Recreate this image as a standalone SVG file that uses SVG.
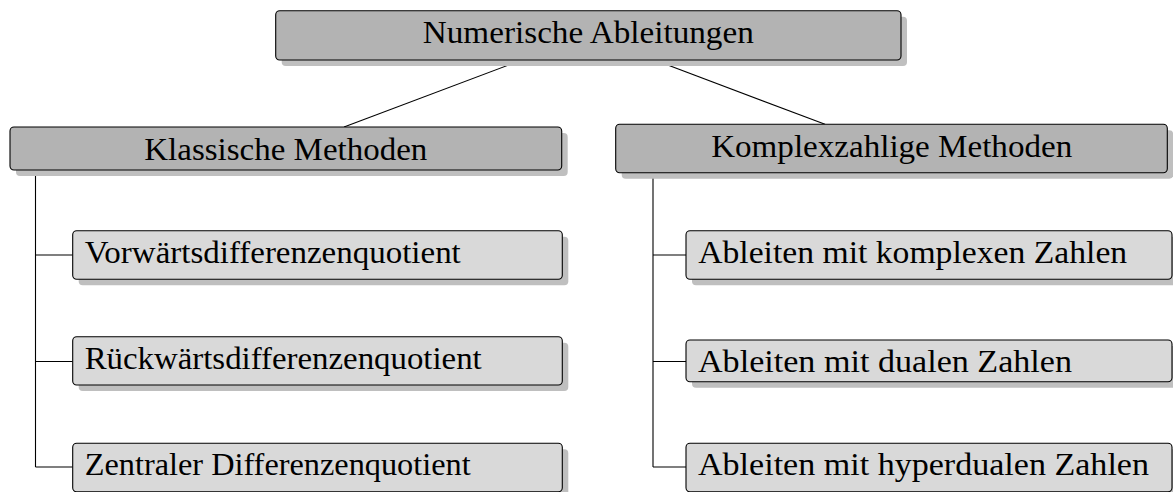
<svg xmlns="http://www.w3.org/2000/svg" width="1173" height="492" viewBox="0 0 1173 492">
<style>
.box{stroke:#000;stroke-width:1.1}
.lvl0{fill:#b3b3b3}
.lvl1{fill:#b3b3b3}
.lvl2{fill:#d9d9d9}
.shadow{fill:#bfbfbf}
.conn{stroke:#000;stroke-width:1.1;fill:none}
text{font-family:"Liberation Serif","Times New Roman",serif;font-size:31px;fill:#000}
.mid{text-anchor:middle}
</style>
<rect width="1173" height="492" fill="#fff"/>
<g id="connectors">
<line class="conn" x1="522" y1="60" x2="344" y2="127"/>
<line class="conn" x1="654.5" y1="60" x2="825" y2="124.3"/>
<path class="conn" d="M35.5,170 V467 M35.5,255 H72.7 M35.5,361.5 H72.7 M35.5,467 H72.7"/>
<path class="conn" d="M653,172.7 V467 M653,255 H686 M653,361.5 H686 M653,467 H686"/>
</g>
<g id="root">
<rect class="shadow" x="281.7" y="16.7" width="625.3" height="49.3" rx="4"/>
<rect class="box lvl0" x="275.7" y="10.7" width="625.3" height="49.3" rx="4"/>
<text class="mid" x="588.3" y="43.3" textLength="331" lengthAdjust="spacingAndGlyphs">Numerische Ableitungen</text>
</g>
<g id="klassisch">
<rect class="shadow" x="16" y="133" width="551.7" height="43" rx="4"/>
<rect class="box lvl1" x="10" y="127" width="551.7" height="43" rx="4"/>
<text class="mid" x="285.8" y="159.6" textLength="283" lengthAdjust="spacingAndGlyphs">Klassische Methoden</text>
</g>
<g id="komplex">
<rect class="shadow" x="621.7" y="130.3" width="551.6" height="48.4" rx="4"/>
<rect class="box lvl1" x="615.7" y="124.3" width="551.6" height="48.4" rx="4"/>
<text class="mid" x="891.7" y="156.5" textLength="361" lengthAdjust="spacingAndGlyphs">Komplexzahlige Methoden</text>
</g>
<g id="vorwaerts">
<rect class="shadow" x="78.7" y="236.7" width="489.6" height="48.6" rx="4"/>
<rect class="box lvl2" x="72.7" y="230.7" width="489.6" height="48.6" rx="4"/>
<text x="84.8" y="263" textLength="376" lengthAdjust="spacingAndGlyphs">Vorwärtsdifferenzenquotient</text>
</g>
<g id="rueckwaerts">
<rect class="shadow" x="78.7" y="342.7" width="489.6" height="48.3" rx="4"/>
<rect class="box lvl2" x="72.7" y="336.7" width="489.6" height="48.3" rx="4"/>
<text x="84.7" y="368.5" textLength="397" lengthAdjust="spacingAndGlyphs">Rückwärtsdifferenzenquotient</text>
</g>
<g id="zentral">
<rect class="shadow" x="78.7" y="449.3" width="489.6" height="48.4" rx="4"/>
<rect class="box lvl2" x="72.7" y="443.3" width="489.6" height="48.4" rx="4"/>
<text x="84.7" y="475.3" textLength="386" lengthAdjust="spacingAndGlyphs">Zentraler Differenzenquotient</text>
</g>
<g id="komplexe-zahlen">
<rect class="shadow" x="692" y="236.7" width="486" height="48.6" rx="4"/>
<rect class="box lvl2" x="686" y="230.7" width="486" height="48.6" rx="4"/>
<text x="698.2" y="263" textLength="429" lengthAdjust="spacingAndGlyphs">Ableiten mit komplexen Zahlen</text>
</g>
<g id="duale-zahlen">
<rect class="shadow" x="692" y="346" width="486" height="41.7" rx="4"/>
<rect class="box lvl2" x="686" y="340" width="486" height="41.7" rx="4"/>
<text x="698" y="371.5" textLength="374" lengthAdjust="spacingAndGlyphs">Ableiten mit dualen Zahlen</text>
</g>
<g id="hyperduale-zahlen">
<rect class="shadow" x="692" y="449.3" width="486" height="48.4" rx="4"/>
<rect class="box lvl2" x="686" y="443.3" width="486" height="48.4" rx="4"/>
<text x="698" y="475.3" textLength="451" lengthAdjust="spacingAndGlyphs">Ableiten mit hyperdualen Zahlen</text>
</g>
</svg>
